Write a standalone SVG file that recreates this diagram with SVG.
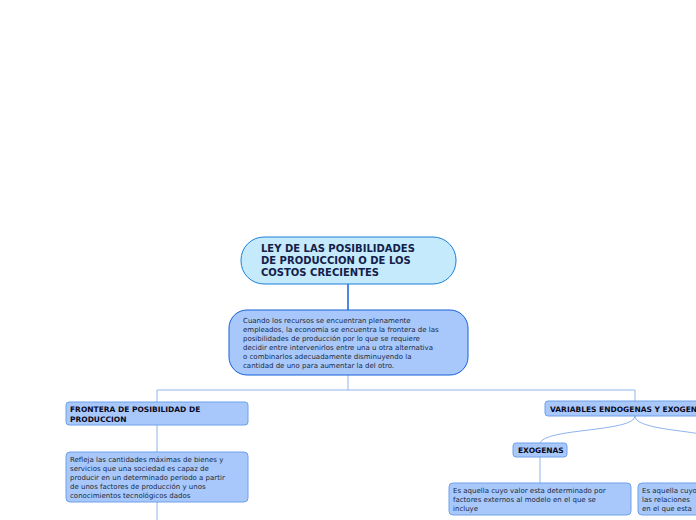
<svg xmlns="http://www.w3.org/2000/svg" width="696" height="520" viewBox="0 0 696 520">
<style>
.n{fill:#a8c8fc;stroke:#6fa0e8;stroke-width:1}
.t{font-family:"DejaVu Sans",Verdana,sans-serif;font-size:7px;fill:#1a2a3a}
.b{font-family:"DejaVu Sans",Verdana,sans-serif;font-size:7.5px;font-weight:bold;fill:#0a0a1a}
.c{fill:none;stroke:#8fb4ec;stroke-width:1}
</style>
<rect width="696" height="520" fill="#fff"/>
<g id="connectors">
<line x1="348" y1="284" x2="348" y2="310" stroke="#1560d8" stroke-width="1.5"/>
<path class="c" d="M348 375V390M157 390H635V401M157 390V402M157 425V452M157 502V520M540 457V483"/>
<path class="c" d="M635 416C635 432 545 428 540 443M635 416C635 428 680 430 700 434"/>
</g>
<g id="root">
<rect x="241" y="237" width="215" height="47" rx="23" fill="#c5eafc" stroke="#1a7fd8"/>
<text font-family="DejaVu Sans,Verdana,sans-serif" font-size="10px" font-weight="bold" fill="#13204a"><tspan x="261" y="252">LEY DE LAS POSIBILIDADES</tspan><tspan x="261" y="264">DE PRODUCCION O DE LOS</tspan><tspan x="261" y="276">COSTOS CRECIENTES</tspan></text>
</g>
<g id="main">
<rect x="229" y="310" width="239" height="65" rx="18" fill="#a8c8fc" stroke="#1560d8"/>
<text class="t"><tspan x="243" y="323">Cuando los recursos se encuentran plenamente</tspan><tspan x="243" y="332">empleados, la economía se encuentra la frontera de las</tspan><tspan x="243" y="341">posibilidades de producción por lo que se requiere</tspan><tspan x="243" y="350">decidir entre intervenirlos entre una u otra alternativa</tspan><tspan x="243" y="359">o combinarlos adecuadamente disminuyendo la</tspan><tspan x="243" y="368">cantidad de uno para aumentar la del otro.</tspan></text>
</g>
<g id="frontera">
<rect class="n" x="66" y="402" width="182" height="23" rx="3"/>
<text class="b"><tspan x="70" y="412">FRONTERA DE POSIBILIDAD DE</tspan><tspan x="70" y="422">PRODUCCION</tspan></text>
</g>
<g id="refleja">
<rect class="n" x="66" y="452" width="182" height="50" rx="4"/>
<text class="t"><tspan x="70" y="462">Refleja las cantidades máximas de bienes y</tspan><tspan x="70" y="471">servicios que una sociedad es capaz de</tspan><tspan x="70" y="480">producir en un determinado periodo  a partir</tspan><tspan x="70" y="489">de unos factores de producción y unos</tspan><tspan x="70" y="498">conocimientos tecnológicos dados</tspan></text>
</g>
<g id="variables">
<rect class="n" x="545" y="401" width="170" height="15" rx="3"/>
<text class="b" x="550" y="412">VARIABLES ENDOGENAS Y EXOGENAS</text>
</g>
<g id="exogenas">
<rect class="n" x="513" y="443" width="54" height="14" rx="3"/>
<text class="b" x="518" y="453">EXOGENAS</text>
</g>
<g id="exo-def">
<rect class="n" x="449" y="483" width="182" height="32" rx="4"/>
<text class="t"><tspan x="453" y="493">Es aquella cuyo valor esta determinado por</tspan><tspan x="453" y="502">factores externos al modelo en el que se</tspan><tspan x="453" y="511">incluye</tspan></text>
</g>
<g id="endo-def">
<rect class="n" x="638" y="483" width="100" height="32" rx="4"/>
<text class="t"><tspan x="642" y="493">Es aquella cuyo</tspan><tspan x="642" y="502">las relaciones</tspan><tspan x="642" y="511">en el que esta</tspan></text>
</g>
</svg>
